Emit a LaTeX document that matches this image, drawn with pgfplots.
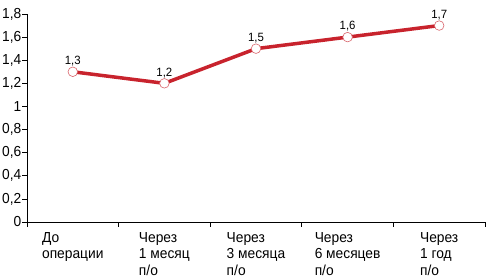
\documentclass[border=0pt]{standalone}
\usepackage{pgfplots}
\pgfplotsset{compat=1.18}
\usepackage{fontspec}
\setmainfont{Liberation Sans}[FakeStretch=0.95]
\definecolor{lred}{RGB}{200,35,45}
\begin{document}
\begin{tikzpicture}
\begin{axis}[
  scale only axis, width=458pt, height=208pt,
  xmin=-0.5, xmax=4.5, ymin=0, ymax=1.8,
  axis lines=left, axis line style={-, line width=0.9pt},
  clip=false,
  /pgf/number format/use comma,
  /pgf/number format/assume math mode=true,
  ytick={0,0.2,0.4,0.6,0.8,1,1.2,1.4,1.6,1.8},
  yticklabel style={font=\fontsize{14.5}{15}\selectfont, inner xsep=0.5pt},
  xtick={-0.5,0.5,1.5,2.5,3.5,4.5},
  xticklabels={},
  tick align=outside, major tick length=5pt,
  tick style={black, line width=0.7pt},
  extra x ticks={0,1,2,3,4},
  extra x tick labels={{До\\операции},{Через\\1 месяц\\п/о},{Через\\3 месяца\\п/о},{Через\\6 месяцев\\п/о},{Через\\1 год\\п/о}},
  extra x tick style={major tick length=0pt, tick label style={font=\fontsize{14.5}{16.5}\selectfont, align=left, anchor=north, yshift=-9pt, inner ysep=1pt}},
]
\addplot[lred, line width=3.5pt, mark=*, mark size=4.8pt,
  mark options={fill=white, draw=lred!70, line width=0.6pt},
  nodes near coords,
  every node near coord/.style={font=\fontsize{12}{12}\selectfont, text=black, anchor=south, yshift=2pt}]
  coordinates {(0,1.3) (1,1.2) (2,1.5) (3,1.6) (4,1.7)};
\end{axis}
\pgfresetboundingbox
\path[use as bounding box] (current axis.south west) ++(-27pt,-58pt) rectangle ++(486pt,280pt);
\end{tikzpicture}
\end{document}
